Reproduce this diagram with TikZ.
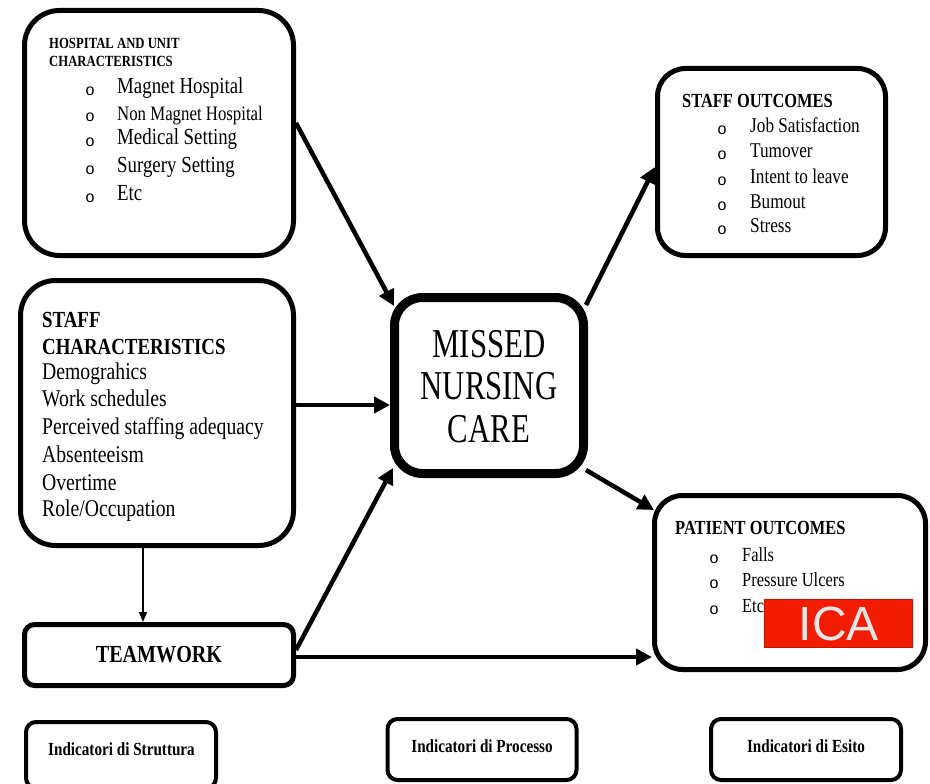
\documentclass[tikz,border=0pt]{standalone}
\usepackage{fontspec}
\setmainfont{Liberation Serif}[FakeStretch=0.82]
\newfontfamily\bigserif{Liberation Serif}[FakeStretch=0.75]
\newfontfamily\icafont{Liberation Sans}
\usetikzlibrary{arrows.meta,calc}
\definecolor{icared}{HTML}{F21C00}
\definecolor{icatext}{HTML}{E6E6E6}
\begin{document}
\begin{tikzpicture}[x=1pt,y=-1pt,
  box/.style={draw, line width=5pt, rounded corners=30pt, inner sep=0pt, fill=white},
  smallbox/.style={draw, line width=4pt, rounded corners=10pt, inner sep=0pt, fill=white},
  txt/.style={anchor=mid west, inner sep=0pt, yshift=-5pt},
  ctxt/.style={anchor=mid, inner sep=0pt},
  arr/.style={line width=4.5pt, -{Triangle[length=16pt,width=16pt]}},
  thinarr/.style={line width=1.3pt, -{Triangle[length=10pt,width=8pt]}},
  bul/.style={anchor=mid, inner sep=0pt, yshift=-6pt, font=\icafont\fontsize{16}{16}\selectfont}
]
\clip (0,0) rectangle (930,784);
\fill[white] (0,0) rectangle (930,784);

% boxes
\node[box, rounded corners=35pt, minimum width=269pt, minimum height=245pt] (hosp) at (159,133) {};
\node[box, rounded corners=35pt, minimum width=273pt, minimum height=265pt] (sc) at (157,413) {};
\node[box, line width=9pt, rounded corners=28pt, minimum width=189pt, minimum height=176pt] (missed) at (489,385.5) {};
\node[box, rounded corners=28pt, minimum width=228pt, minimum height=187pt] (so) at (771.5,162) {};
\node[box, rounded corners=28pt, minimum width=271pt, minimum height=174pt] (po) at (790,582.5) {};
\node[box, rounded corners=10pt, minimum width=269pt, minimum height=61pt] (tw) at (159,655) {};
\node[smallbox, minimum width=190pt, minimum height=66pt] (bs) at (121,755) {};
\node[smallbox, minimum width=189pt, minimum height=61pt] (bp) at (482,749.5) {};
\node[smallbox, minimum width=190pt, minimum height=61pt] (be) at (806,749.5) {};

% arrows
\draw[arr] ([yshift=10pt]hosp.east) -- ([xshift=4pt,yshift=-13pt]missed.north west);
\draw[arr] ([yshift=8pt]sc.east) -- ([yshift=8pt]sc.east -| missed.west);
\draw[arr] ([yshift=5pt]tw.east) -- ([xshift=3pt,yshift=10pt]missed.south west);
\draw[arr] ([xshift=-2pt,yshift=-12pt]missed.north east) -- ([yshift=-5pt]so.west);
\draw[arr] ([xshift=-2pt,yshift=8pt]missed.south east) -- ([xshift=2pt,yshift=-17pt]po.north west);
\draw[arr] ([yshift=-2pt]tw.east) -- ([yshift=-2pt]tw.east -| po.west);
\draw[thinarr] ([xshift=-14pt]sc.south) -- ([xshift=-14pt]sc.south |- tw.north);

% hospital text
\node[txt, yshift=3pt, font=\bfseries\fontsize{15.5}{16}\selectfont] (h0) at (49,44) {HOSPITAL AND UNIT};
\node[txt, yshift=3pt, font=\bfseries\fontsize{15.5}{16}\selectfont] (h1) at (49,62) {CHARACTERISTICS};
\foreach \yy in {87,113,138,166,194}{\node[bul] at (90,\yy) {o};}
\node[txt, font=\fontsize{23}{24}\selectfont] (h2) at (117,86) {Magnet Hospital};
\node[txt, font=\fontsize{20.5}{22}\selectfont] (h3) at (117,113) {Non Magnet Hospital};
\node[txt, font=\fontsize{23}{24}\selectfont] (h4) at (117,137) {Medical Setting};
\node[txt, font=\fontsize{23}{24}\selectfont] (h5) at (117,165) {Surgery Setting};
\node[txt, font=\fontsize{23}{24}\selectfont] (h6) at (117,193) {Etc};

% staff characteristics text
\node[txt, font=\bfseries\fontsize{23}{24}\selectfont] (s0) at (42,320) {STAFF};
\node[txt, font=\bfseries\fontsize{23}{24}\selectfont] (s1) at (42,347) {CHARACTERISTICS};
\node[txt, font=\fontsize{24}{25}\selectfont] (s2) at (42,372) {Demograhics};
\node[txt, font=\fontsize{24}{25}\selectfont] (s3) at (42,399) {Work schedules};
\node[txt, font=\fontsize{24}{25}\selectfont] (s4) at (42,427) {Perceived staffing adequacy};
\node[txt, font=\fontsize{24}{25}\selectfont] (s5) at (42,455) {Absenteeism};
\node[txt, font=\fontsize{24}{25}\selectfont] (s6) at (42,483) {Overtime};
\node[txt, font=\fontsize{24}{25}\selectfont] (s7) at (42,509) {Role/Occupation};

% missed text
\node[ctxt, yshift=-10pt, font=\bigserif\fontsize{41}{42}\selectfont] (m0) at (489,345) {MISSED};
\node[ctxt, yshift=-10pt, font=\bigserif\fontsize{41}{42}\selectfont] (m1) at (489,387) {NURSING};
\node[ctxt, yshift=-10pt, font=\bigserif\fontsize{41}{42}\selectfont] (m2) at (489,430) {CARE};

% staff outcomes text
\node[txt, yshift=1pt, font=\bfseries\fontsize{20}{21}\selectfont] (o0) at (682,101) {STAFF OUTCOMES};
\foreach \yy in {126,151,177,202,226}{\node[bul] at (722,\yy) {o};}
\node[txt, font=\fontsize{21}{22}\selectfont] (o1) at (750,125) {Job Satisfaction};
\node[txt, font=\fontsize{21}{22}\selectfont] (o2) at (750,150) {Tumover};
\node[txt, font=\fontsize{21}{22}\selectfont] (o3) at (750,176) {Intent to leave};
\node[txt, font=\fontsize{21}{22}\selectfont] (o4) at (750,201) {Bumout};
\node[txt, font=\fontsize{21}{22}\selectfont] (o5) at (750,225) {Stress};

% patient outcomes text
\node[txt, yshift=1pt, font=\bfseries\fontsize{20}{21}\selectfont] (p0) at (675,528) {PATIENT OUTCOMES};
\foreach \yy in {555,580,606}{\node[bul] at (714,\yy) {o};}
\node[txt, font=\fontsize{20}{21}\selectfont] (p1) at (742,554) {Falls};
\node[txt, font=\fontsize{20}{21}\selectfont] (p2) at (742,579) {Pressure Ulcers};
\node[txt, font=\fontsize{20}{21}\selectfont] (p3) at (742,605) {Etc};

% teamwork and bottom labels
\node[ctxt, yshift=-6pt, font=\bfseries\fontsize{24.5}{25}\selectfont] (t0) at (159,654) {TEAMWORK};
\node[ctxt, yshift=-4pt, font=\bfseries\fontsize{18.5}{19}\selectfont] (b0) at (121.5,749) {Indicatori di Struttura};
\node[ctxt, yshift=-4pt, font=\bfseries\fontsize{18.5}{19}\selectfont] (b1) at (482,746) {Indicatori di Processo};
\node[ctxt, yshift=-4pt, font=\bfseries\fontsize{18.5}{19}\selectfont] (b2) at (806,746) {Indicatori di Esito};

% ICA label
\node[draw=icared!80!black, line width=0.6pt, fill=icared, minimum width=148pt, minimum height=48pt, inner sep=0pt] (ica) at (838.5,623.5) {};
\node[ctxt, yshift=-14pt, text=icatext, font=\icafont\fontsize{48}{48}\selectfont] (icat) at (839,624) {ICA};
\end{tikzpicture}
\end{document}
